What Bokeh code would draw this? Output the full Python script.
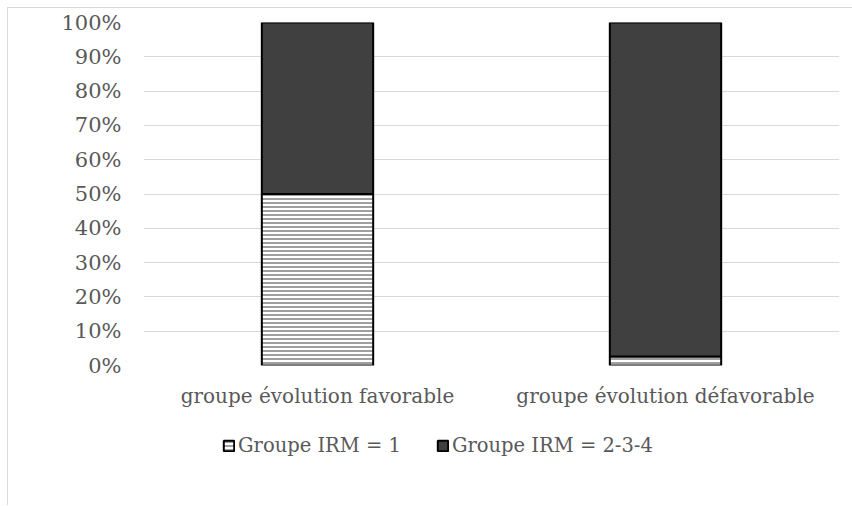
from bokeh.plotting import figure
from bokeh.layouts import column
from bokeh.models import ColumnDataSource, NumeralTickFormatter, FixedTicker, Legend, LegendItem
from bokeh.embed import file_html
from bokeh.resources import INLINE

# Share of patients by MRI group within each outcome group (percent)
groups = ["groupe évolution favorable", "groupe évolution défavorable"]
irm_1 = [50.0, 2.6]
irm_234 = [50.0, 97.4]
series_names = ["Groupe IRM = 1", "Groupe IRM = 2-3-4"]
y_ticks = [0, 10, 20, 30, 40, 50, 60, 70, 80, 90, 100]

FONT = "DejaVu Serif"
TEXT = "#595959"
GRID = "#d9d9d9"
DARK = "#404040"

low = [v / 100 for v in irm_1]
high = [(a + b) / 100 for a, b in zip(irm_1, irm_234)]
src = ColumnDataSource(data=dict(cat=groups, b1=[0] * len(groups), t1=low, b2=low, t2=high))

hatched = dict(fill_color="white", line_color="black", line_width=2,
               hatch_pattern="horizontal_line", hatch_color="#808080",
               hatch_weight=1.5, hatch_scale=4)
solid = dict(fill_color=DARK, line_color="black", line_width=2)

# --- main chart ---
p = figure(
    x_range=groups, y_range=(0, 1),
    width=845, height=412,
    output_backend="svg", toolbar_location=None,
    min_border_left=135, min_border_right=14, min_border_top=14, min_border_bottom=55,
    margin=(7, 0, 0, 7),
)
p.styles = {"border-top": f"1px solid {GRID}", "border-left": f"1px solid {GRID}"}
p.outline_line_color = None
p.background_fill_color = "white"
p.border_fill_color = "white"

p.vbar(x="cat", bottom="b1", top="t1", width=0.32, source=src, **hatched)
p.vbar(x="cat", bottom="b2", top="t2", width=0.32, source=src, **solid)

p.yaxis.ticker = FixedTicker(ticks=[t / 100 for t in y_ticks])
p.yaxis.formatter = NumeralTickFormatter(format="0%")
for ax in (p.xaxis[0], p.yaxis[0]):
    ax.axis_line_color = None
    ax.major_tick_line_color = None
    ax.minor_tick_line_color = None
    ax.major_label_text_font = FONT
    ax.major_label_text_color = TEXT
p.yaxis.major_label_text_font_size = "21px"
p.xaxis.major_label_text_font_size = "20px"
p.yaxis.major_label_standoff = 16
p.xaxis.major_label_standoff = 12
p.xgrid.grid_line_color = None
p.ygrid.grid_line_color = GRID
p.ygrid.grid_line_width = 1
p.x_range.range_padding = 0

# --- legend strip below the chart (its frame lines up with the chart's frame) ---
lg = figure(
    x_range=groups, y_range=(0, 1),
    width=845, height=86,
    output_backend="svg", toolbar_location=None,
    x_axis_location=None, y_axis_location=None,
    min_border=0, margin=(0, 0, 0, 7),
)
lg.styles = {"border-left": f"1px solid {GRID}"}
lg.outline_line_color = None
lg.xgrid.grid_line_color = None
lg.ygrid.grid_line_color = None
# same series as the chart collapsed to zero-size bars: they only supply the legend keys
k1 = lg.vbar(x="cat", bottom="t1", top="t1", width=0, source=src, **hatched)
k2 = lg.vbar(x="cat", bottom="t2", top="t2", width=0, source=src, **solid)

legend = Legend(
    items=[LegendItem(label=series_names[0], renderers=[k1]),
           LegendItem(label=series_names[1], renderers=[k2])],
    orientation="horizontal", location=(79, 48),
    label_text_font=FONT, label_text_font_size="19.5px", label_text_color=TEXT,
    glyph_width=13, glyph_height=13, label_standoff=3, spacing=35,
    border_line_color=None, background_fill_alpha=0, padding=0, margin=0,
)
lg.add_layout(legend, "center")

layout = column(p, lg, spacing=0)
open("out.html", "w").write(file_html(layout, INLINE))
